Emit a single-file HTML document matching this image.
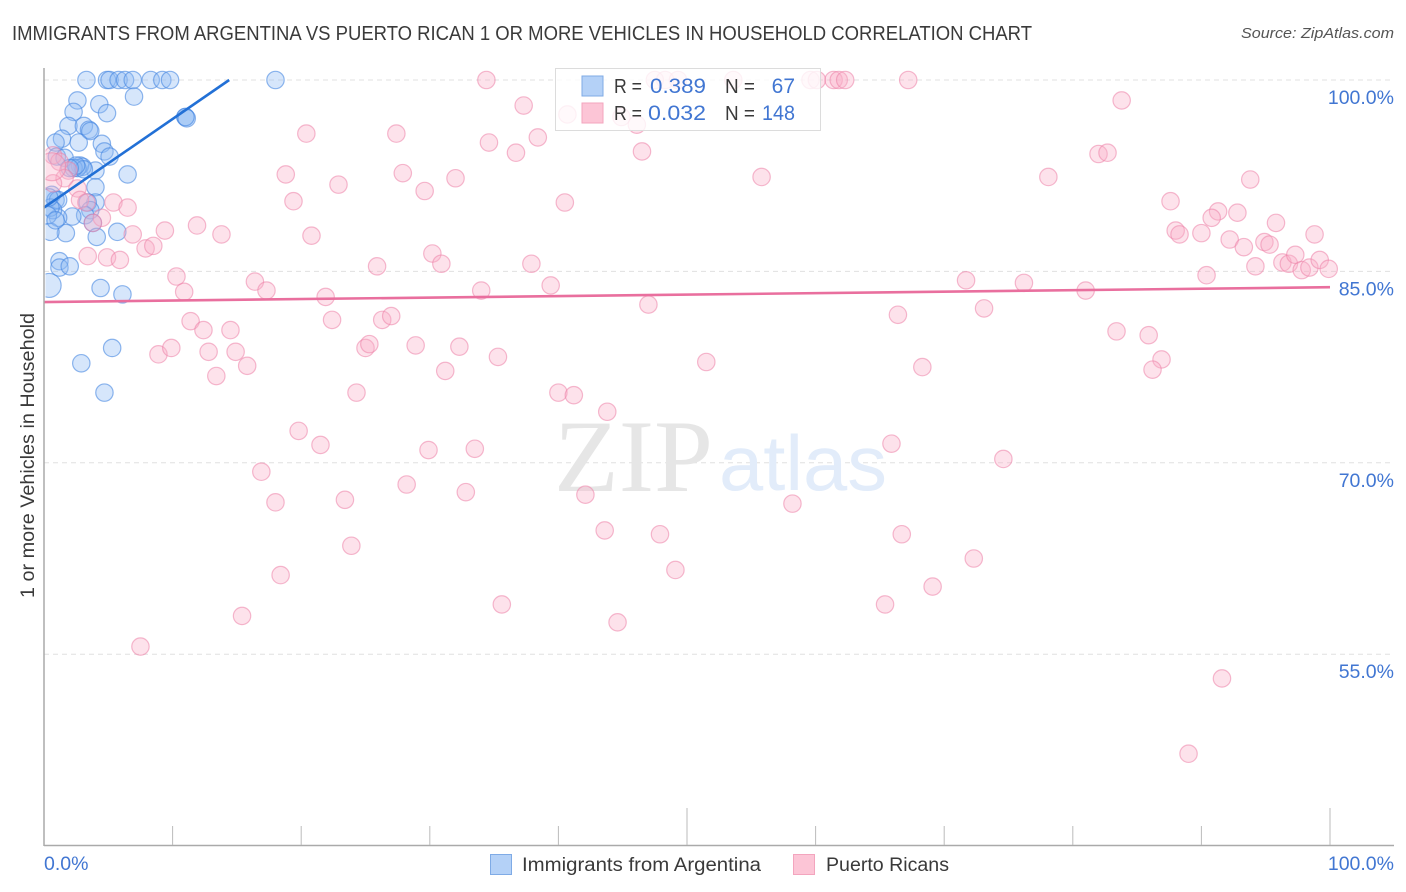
<!DOCTYPE html>
<html lang="en">
<head>
<meta charset="utf-8">
<title>Immigrants from Argentina vs Puerto Rican 1 or more Vehicles in Household Correlation Chart</title>
<style>
html,body{margin:0;padding:0;background:#fff;width:1406px;height:892px;overflow:hidden}
svg{display:block}
text{font-family:"Liberation Sans",sans-serif}
</style>
</head>
<body>
<svg id="chart" width="1406" height="892" viewBox="0 0 1406 892" xmlns="http://www.w3.org/2000/svg">
<defs><clipPath id="plot-clip"><rect x="45.5" y="60" width="1350" height="785"></rect></clipPath></defs>
<text x="12" y="40" font-size="20" fill="#3a3a3a" textLength="1020" lengthAdjust="spacingAndGlyphs">IMMIGRANTS FROM ARGENTINA VS PUERTO RICAN 1 OR MORE VEHICLES IN HOUSEHOLD CORRELATION CHART</text>
<text x="1241" y="38" font-size="15" font-style="italic" fill="#555" textLength="153" lengthAdjust="spacingAndGlyphs">Source: ZipAtlas.com</text>
<g id="grid"></g>
<g>
<text x="554" y="491" font-size="103" fill="#e6e6e6" textLength="159" lengthAdjust="spacingAndGlyphs" style="font-family:'Liberation Serif',serif">ZIP</text>
<text x="719" y="490" font-size="78" fill="#e2ecfa" textLength="168" lengthAdjust="spacingAndGlyphs">atlas</text>
</g>
<g id="points" clip-path="url(#plot-clip)"></g>
<g id="trends"></g>
<g id="axes"></g>
<text transform="translate(34,598) rotate(-90)" font-size="19" fill="#3a3a3a" textLength="285" lengthAdjust="spacingAndGlyphs">1 or more Vehicles in Household</text>
<g>
<rect x="555.5" y="68.5" width="265" height="62" fill="#fff" fill-opacity="0.8" stroke="#dcdcdc" stroke-width="1"></rect>
<rect x="582" y="76" width="21" height="20" fill="#b4d1f7" stroke="#7fabe6" stroke-width="1"></rect>
<rect x="582" y="103" width="21" height="20" fill="#fcc5d6" stroke="#f3a5be" stroke-width="1"></rect>
<text x="614" y="93" font-size="20" fill="#3a3a3a" textLength="28" lengthAdjust="spacingAndGlyphs">R =</text>
<text x="650" y="93" font-size="21" fill="#4176d2" textLength="56" lengthAdjust="spacingAndGlyphs">0.389</text>
<text x="725" y="93" font-size="20" fill="#3a3a3a" textLength="30" lengthAdjust="spacingAndGlyphs">N =</text>
<text x="795" y="93" font-size="21" fill="#4176d2" text-anchor="end">67</text>
<text x="614" y="120" font-size="20" fill="#3a3a3a" textLength="28" lengthAdjust="spacingAndGlyphs">R =</text>
<text x="648" y="120" font-size="21" fill="#4176d2" textLength="58" lengthAdjust="spacingAndGlyphs">0.032</text>
<text x="725" y="120" font-size="20" fill="#3a3a3a" textLength="30" lengthAdjust="spacingAndGlyphs">N =</text>
<text x="762" y="120" font-size="21" fill="#4176d2" textLength="33" lengthAdjust="spacingAndGlyphs">148</text>
</g>
<g>
<rect x="490.5" y="854.5" width="21" height="20" fill="#b4d1f7" stroke="#7fabe6" stroke-width="1"></rect>
<text x="522" y="871" font-size="19" fill="#3a3a3a" textLength="239" lengthAdjust="spacingAndGlyphs">Immigrants from Argentina</text>
<rect x="793.5" y="854.5" width="21" height="20" fill="#fcc5d6" stroke="#f3a5be" stroke-width="1"></rect>
<text x="826" y="871" font-size="19" fill="#3a3a3a" textLength="123" lengthAdjust="spacingAndGlyphs">Puerto Ricans</text>
</g>
</svg>
<script>
var yTickValues = [100, 85, 70, 55];
var yTickLabels = ["100.0%", "85.0%", "70.0%", "55.0%"];
var xTickValues = [0, 10, 20, 30, 40, 50, 60, 70, 80, 90, 100];
var xEndLabels = ["0.0%", "100.0%"];

var argentinaX = [3.3,4.9,5.1,5.8,6.3,6.9,8.3,9.2,9.8,18.0,7.0,2.6,4.3,4.9,2.3,11.0,11.0,11.1,1.9,3.1,3.5,3.6,1.4,0.9,2.7,4.5,4.7,5.1,1.0,1.6,6.5,4.0,2.8,3.0,2.6,2.3,4.0,0.6,0.9,1.1,4.0,3.4,3.6,3.2,2.2,1.1,0.7,0.5,3.8,5.7,1.7,0.5,4.1,1.2,1.2,2.0,4.4,6.1,5.3,2.9,4.7,0.4,0.3,3.1,2.5,2.0,0.9];
var argentinaY = [100,100,100,100,100,100,100,100,100,100,98.7,98.4,98.1,97.4,97.5,97.1,97.1,97.0,96.4,96.4,96.1,96.0,95.4,95.1,95.1,95.0,94.4,94.0,94.0,93.9,92.6,92.9,93.3,93.2,93.1,93.1,91.6,91.0,90.6,90.6,90.4,90.4,89.8,89.4,89.3,89.2,89.8,90.0,88.8,88.1,88.0,88.1,87.7,85.8,85.3,85.4,83.7,83.2,79.0,77.8,75.5,90.8,89.4,93.0,93.3,93.1,89.0];
var argentinaLargeX = [0.4];
var argentinaLargeY = [83.9];

var puertoRicanX = [34.4,47.5,48.3,49.3,53.6,59.6,60.1,61.4,61.8,62.3,67.2,40.7,44.9,46.1,38.4,37.3,83.8,20.4,27.4,34.6,36.7,46.5,82.0,82.7,18.8,27.9,22.9,29.6,32.0,55.8,78.1,93.8,19.4,40.5,87.6,91.3,90.8,92.8,95.8,20.8,11.9,13.8,9.4,6.9,88.0,88.3,90.0,92.2,98.8,93.3,94.9,95.3,30.2,30.9,37.9,94.2,90.4,96.3,96.8,97.3,97.8,98.4,99.2,99.9,5.4,6.5,7.9,8.5,3.4,4.9,5.9,0.7,1.2,1.9,1.6,0.7,2.6,2.8,3.3,4.5,3.8,10.3,10.9,16.4,17.3,11.4,12.4,14.5,8.9,9.9,12.8,14.9,15.8,13.4,21.9,22.4,26.3,27.0,25.0,25.3,28.9,32.3,35.3,31.2,24.3,40.0,41.2,43.8,51.5,47.0,66.4,73.1,71.7,76.2,81.0,83.4,85.9,86.9,86.2,68.3,25.9,39.4,34.0,19.8,21.5,29.9,33.5,16.9,65.9,74.6,18.0,23.4,28.2,32.8,42.1,58.2,23.9,43.6,47.9,66.7,72.3,18.4,49.1,69.1,35.6,65.4,44.6,15.4,7.5,91.6,89.0];
var puertoRicanY = [100,100,100,100,100,100,100,100,100,100,100,97.3,97.1,96.5,95.5,98.0,98.4,95.8,95.8,95.1,94.3,94.4,94.2,94.3,92.6,92.7,91.8,91.3,92.3,92.4,92.4,92.2,90.5,90.4,90.5,89.7,89.2,89.6,88.8,87.8,88.6,87.9,88.2,87.9,88.2,87.9,88.0,87.5,87.9,86.9,87.3,87.1,86.4,85.6,85.6,85.4,84.7,85.7,85.6,86.3,85.1,85.3,85.9,85.2,90.4,90.0,86.8,87.0,86.2,86.1,85.9,94.1,93.6,92.9,92.3,91.9,91.5,90.6,90.4,89.2,88.8,84.6,83.4,84.2,83.5,81.1,80.4,80.4,78.5,79.0,78.7,78.7,77.6,76.8,83.0,81.2,81.2,81.5,79.0,79.3,79.2,79.1,78.3,77.2,75.5,75.5,75.3,74.0,77.9,82.4,81.6,82.1,84.3,84.1,83.5,80.3,80.0,78.1,77.3,77.5,85.4,83.9,83.5,72.5,71.4,71.0,71.1,69.3,71.5,70.3,66.9,67.1,68.3,67.7,67.5,66.8,63.5,64.7,64.4,64.4,62.5,61.2,61.6,60.3,58.9,58.9,57.5,58.0,55.6,53.1,47.2];
var puertoRicanLargeX = [0.6];
var puertoRicanLargeY = [93.2];

var argentinaTrendX = [0, 14.4];
var argentinaTrendY = [90.0, 100];
var puertoRicanTrendX = [0, 100];
var puertoRicanTrendY = [82.6, 83.76];

var SVGNS = "http://www.w3.org/2000/svg";
function xScale(v) { return 44 + v * 12.86; }
function yScale(v) { return 80 + (100 - v) * 12.76; }
function make(tag, parent, attrs) {
  var el = document.createElementNS(SVGNS, tag);
  for (var k in attrs) el.setAttribute(k, attrs[k]);
  parent.appendChild(el);
  return el;
}

var grid = document.getElementById("grid");
var axes = document.getElementById("axes");
var pointsLayer = document.getElementById("points");
var trends = document.getElementById("trends");

yTickValues.forEach(function (v, i) {
  var line = make("line", grid, {x1: 44, x2: 1394, y1: yScale(v), y2: yScale(v), stroke: "#e0e0e0", "stroke-width": 1, "stroke-dasharray": "5 4"});
  
  
  var label = make("text", axes, {x: 1394, y: yScale(v) + 24, "font-size": 19.5, fill: "#4176d2", "text-anchor": "end"});
  label.textContent = yTickLabels[i];
  
  
});

var yAxis = make("line", axes, {x1: 44, x2: 44, y1: 68, y2: 846, stroke: "#aaaaaa", "stroke-width": 1.5});


var xAxis = make("line", axes, {x1: 44, x2: 1394, y1: 845.5, y2: 845.5, stroke: "#aaaaaa", "stroke-width": 1.5});



xTickValues.forEach(function (v) {
  if (v === 0) return;
  var major = v === 50 || v === 100;
  var tick = make("line", axes, {x1: xScale(v), x2: xScale(v), y1: major ? 808 : 826, y2: 845, stroke: "#bbbbbb", "stroke-width": 1});
  
  
});

var xLabelLeft = make("text", axes, {x: xScale(0), y: 870, "font-size": 19.5, fill: "#4176d2"});
xLabelLeft.textContent = xEndLabels[0];


var xLabelRight = make("text", axes, {x: 1394, y: 870, "font-size": 19.5, fill: "#4176d2", "text-anchor": "end"});
xLabelRight.textContent = xEndLabels[1];



function drawArgentina(xs, ys, r) {
  xs.forEach(function (x, i) {
    var c = make("circle", pointsLayer, {cx: xScale(x), cy: yScale(ys[i]), r: r, fill: "rgba(140,185,243,0.36)", stroke: "rgba(70,135,225,0.6)", "stroke-width": 1.2});
    
    
  });
}
function drawPuertoRican(xs, ys, r) {
  xs.forEach(function (x, i) {
    var c = make("circle", pointsLayer, {cx: xScale(x), cy: yScale(ys[i]), r: r, fill: "rgba(249,175,200,0.36)", stroke: "rgba(236,130,168,0.55)", "stroke-width": 1.2});
    
    
  });
}
drawArgentina(argentinaX, argentinaY, 8.7);
drawArgentina(argentinaLargeX, argentinaLargeY, 12);
drawPuertoRican(puertoRicanX, puertoRicanY, 8.7);
drawPuertoRican(puertoRicanLargeX, puertoRicanLargeY, 14);

var blueTrend = make("line", trends, {x1: xScale(argentinaTrendX[0]), y1: yScale(argentinaTrendY[0]), x2: xScale(argentinaTrendX[1]), y2: yScale(argentinaTrendY[1]), stroke: "#2270d6", "stroke-width": 2.6});


var pinkTrend = make("line", trends, {x1: xScale(puertoRicanTrendX[0]), y1: yScale(puertoRicanTrendY[0]), x2: xScale(puertoRicanTrendX[1]), y2: yScale(puertoRicanTrendY[1]), stroke: "#e96f9e", "stroke-width": 2.6});


</script>
</body>
</html>
